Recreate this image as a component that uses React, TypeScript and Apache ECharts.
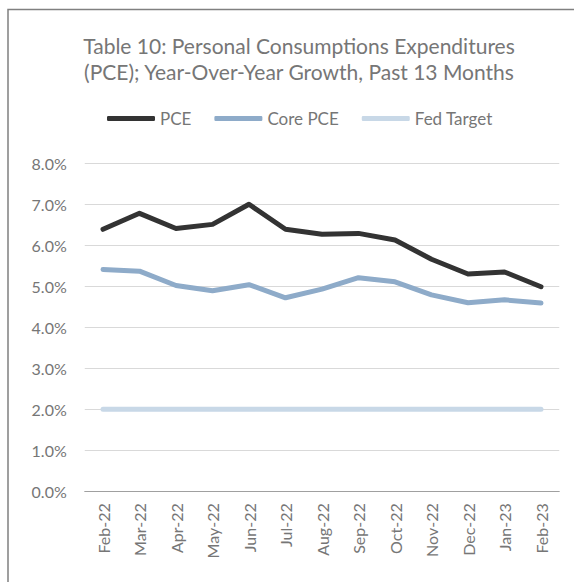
import React, { useEffect, useRef } from "react";
import * as echarts from "echarts";

const categories = ["Feb-22", "Mar-22", "Apr-22", "May-22", "Jun-22", "Jul-22", "Aug-22", "Sep-22", "Oct-22", "Nov-22", "Dec-22", "Jan-23", "Feb-23"];
const pce = [6.39, 6.78, 6.41, 6.51, 7.0, 6.39, 6.27, 6.29, 6.13, 5.66, 5.3, 5.35, 4.99];
const corePce = [5.41, 5.37, 5.02, 4.89, 5.04, 4.72, 4.93, 5.21, 5.11, 4.79, 4.6, 4.67, 4.59];
const fedTarget = [2, 2, 2, 2, 2, 2, 2, 2, 2, 2, 2, 2, 2];
const titleLines = ["Table 10: Personal Consumptions Expenditures", "(PCE); Year-Over-Year Growth, Past 13 Months"];

const FONT = "Lato, 'Noto Sans', sans-serif";

export default function App() {
  const ref = useRef<HTMLDivElement>(null);
  useEffect(() => {
    if (!ref.current) return;
    const chart = echarts.init(ref.current, null, { renderer: "svg" });
    chart.setOption({
      animation: false,
      backgroundColor: "#ffffff",
      textStyle: { fontFamily: FONT },
      title: {
        text: titleLines.join("\n"),
        left: 294,
        textAlign: "center",
        top: 27,
        textStyle: { fontFamily: FONT, fontSize: 21, fontWeight: "normal", color: "#767676", lineHeight: 26 },
      },
      legend: {
        left: 102,
        top: 105,
        icon: "roundRect",
        itemWidth: 48,
        itemHeight: 5,
        itemGap: 23,
        textStyle: { fontFamily: FONT, fontSize: 17, color: "#767676" },
        data: ["PCE", "Core PCE", "Fed Target"],
      },
      graphic: [
        {
          type: "rect",
          shape: { x: 8, y: 9.5, width: 700, height: 700 },
          style: { fill: "none", stroke: "#808080", lineWidth: 1.5 },
          silent: true,
          z: 100,
        },
      ],
      grid: {
        left: 84.75,
        right: 14.75,
        top: 163.3,
        bottom: 90.7,
        containLabel: false,
        outerBoundsMode: "none",
      },
      xAxis: {
        type: "category",
        data: categories,
        boundaryGap: true,
        axisTick: { show: false },
        axisLine: { lineStyle: { color: "#a0a0a0", width: 1 } },
        axisLabel: { rotate: 90, margin: 12, fontFamily: FONT, fontSize: 16, color: "#767676", interval: 0 },
      },
      yAxis: {
        type: "value",
        min: 0,
        max: 8,
        interval: 1,
        axisLine: { show: false },
        axisTick: { show: false },
        splitLine: { lineStyle: { color: "#d9d9d9", width: 1 } },
        axisLabel: {
          margin: 18,
          fontFamily: FONT,
          fontSize: 16,
          color: "#767676",
          formatter: (v: number) => v.toFixed(1) + "%",
        },
      },
      series: [
        {
          name: "PCE",
          type: "line",
          data: pce,
          symbol: "none",
          color: "#333333",
          lineStyle: { width: 5, color: "#333333", cap: "round", join: "round" },
          z: 5,
        },
        {
          name: "Core PCE",
          type: "line",
          data: corePce,
          symbol: "none",
          color: "#8eabc9",
          lineStyle: { width: 5, color: "#8eabc9", cap: "round", join: "round" },
          z: 4,
        },
        {
          name: "Fed Target",
          type: "line",
          data: fedTarget,
          symbol: "none",
          color: "#c8d8e7",
          lineStyle: { width: 5, color: "#c8d8e7", cap: "round", join: "round" },
          z: 3,
        },
      ],
    });
    return () => chart.dispose();
  }, []);
  return <div ref={ref} style={{ position: "absolute", left: 0, top: 0, width: 574, height: 582 }} />;
}
